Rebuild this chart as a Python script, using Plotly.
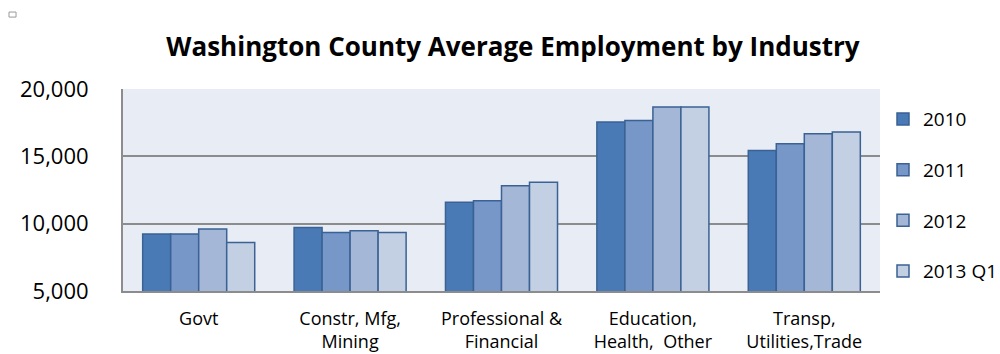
import plotly.graph_objects as go

# Average employment by industry group, Washington County
industries = ["Govt", "Constr, Mfg,<br>Mining", "Professional &<br>Financial",
              "Education,<br>Health,  Other", "Transp,<br>Utilities,Trade"]
periods = ["2010", "2011", "2012", "2013 Q1"]

emp_2010 = [9230, 9720, 11590, 17550, 15430]
emp_2011 = [9230, 9350, 11700, 17670, 15930]
emp_2012 = [9600, 9470, 12820, 18670, 16680]
emp_2013q1 = [8600, 9350, 13080, 18670, 16800]

y_ticks = [5000, 10000, 15000, 20000]
y_tick_labels = ["5,000", "10,000", "15,000", "20,000"]

series = [emp_2010, emp_2011, emp_2012, emp_2013q1]
fills = ["#4A7AB5", "#7697C8", "#A4B7D7", "#C3CFE3"]
edge = "#3A6294"
font_family = "'Open Sans', sans-serif"

fig = go.Figure()
for name, vals, col in zip(periods, series, fills):
    fig.add_trace(go.Bar(
        x=industries, y=vals, name=name, legendgroup=name,
        marker=dict(color=col, line=dict(color=edge, width=1.5)),
    ))

fig.update_layout(
    width=1000, height=354,
    margin=dict(l=123, r=120, t=89, b=63),
    paper_bgcolor="white",
    plot_bgcolor="#E8ECF4",
    barmode="group", bargap=0.26, bargroupgap=0,
    font=dict(family=font_family, color="#000000"),
    title=dict(text="<b>Washington County Average Employment by Industry</b>",
               x=0.513, xanchor="center", y=0.867, yanchor="middle",
               font=dict(size=26, family=font_family)),
    # legend placed relative to the whole page so it sits in the right margin
    legend=dict(xref="container", x=0.883, xanchor="left",
                y=0.945, yanchor="top",
                font=dict(size=19), tracegroupgap=23,
                bgcolor="rgba(0,0,0,0)", itemwidth=30),
    xaxis=dict(showline=True, linecolor="#8C8C8C", linewidth=2,
               showgrid=False, ticks="", tickfont=dict(size=18),
               ticklabelstandoff=10, automargin=False),
    yaxis=dict(range=[5000, 20000], tickvals=y_ticks, ticktext=y_tick_labels,
               showgrid=True, gridcolor="#8C8C8C", gridwidth=1.5,
               showline=True, linecolor="#8C8C8C", linewidth=2,
               zeroline=False, ticks="", tickfont=dict(size=22),
               ticklabelstandoff=28, automargin=False),
    shapes=[dict(type="rect", xref="paper", yref="paper",
                 x0=-0.1506, x1=-0.1413, y0=1.356, y1=1.381,
                 line=dict(color="#9A9A9A", width=1), fillcolor="white")],
)

fig.write_html("out.html")
